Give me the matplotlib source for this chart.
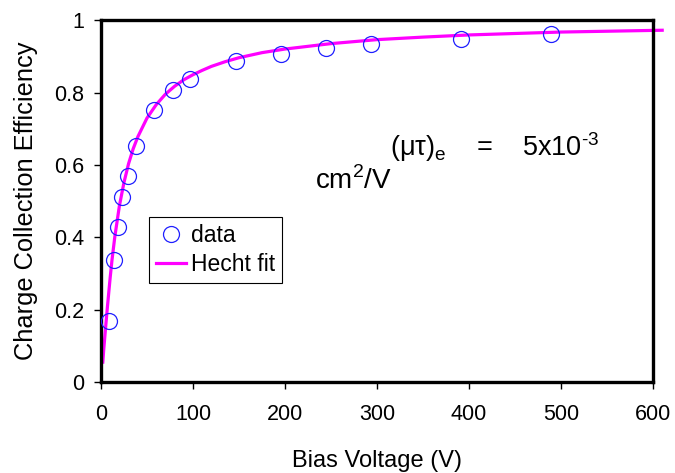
import matplotlib
matplotlib.use('Agg')
import matplotlib.pyplot as plt

plt.rcParams['font.family'] = ['Liberation Sans', 'DejaVu Sans']
plt.rcParams['mathtext.fontset'] = 'custom'
plt.rcParams['mathtext.rm'] = 'Liberation Sans'

# measured points
bias_v = [9, 14, 19, 23, 29, 38, 58, 78, 97, 147, 196, 245, 294, 391, 489]
cce = [0.168, 0.337, 0.428, 0.511, 0.571, 0.654, 0.752, 0.807, 0.837,
       0.888, 0.908, 0.925, 0.936, 0.950, 0.963]

# fit curve
fit_v = [2, 3, 5, 7, 10, 12, 15, 20, 25, 30, 35, 40, 50, 60, 70, 80, 90, 100,
         110, 120, 135, 150, 175, 200, 250, 300, 350, 400, 500, 610]
fit_cce = [0.055, 0.09, 0.150, 0.208, 0.289, 0.338, 0.401, 0.487, 0.552,
           0.604, 0.645, 0.678, 0.730, 0.767, 0.796, 0.818, 0.836, 0.850,
           0.862, 0.873, 0.886, 0.897, 0.911, 0.921, 0.936, 0.947, 0.954,
           0.960, 0.968, 0.973]

x_ticks = [0, 100, 200, 300, 400, 500, 600]
y_ticks = [0, 0.2, 0.4, 0.6, 0.8, 1]
y_tick_labels = ['0', '0.2', '0.4', '0.6', '0.8', '1']

fig = plt.figure(figsize=(6.75, 4.73), dpi=100)
ax = fig.add_axes([0.1496, 0.1924, 0.8178, 0.7643])

ax.plot(bias_v, cce, 'o', mfc='none', mec='#1f1fff', ms=11.5, mew=0.9,
        label='data', zorder=3)
ax.plot(fit_v, fit_cce, color='#ff00ff', lw=2.3, label='Hecht fit',
        clip_on=False, zorder=2)

ax.set_xlim(0, 600)
ax.set_ylim(0, 1)
ax.set_xticks(x_ticks)
ax.set_yticks(y_ticks)
ax.set_yticklabels(y_tick_labels)
ax.tick_params(direction='out', length=5, width=1, labelsize=15.5, pad=7)
ax.tick_params(axis='x', pad=11)
for s in ax.spines.values():
    s.set_linewidth(2.4)

ax.set_xlabel('Bias Voltage (V)', fontsize=17, labelpad=18)
ax.set_ylabel('Charge Collection Efficiency', fontsize=18.3, labelpad=12)

ax.text(314, 0.65,
        '(μτ)$_\\mathregular{e}$    =    5x10$^\\mathregular{\u20103}$',
        fontsize=19.5, va='center')
ax.text(233, 0.558, r'cm$^\mathregular{2}$/V', fontsize=20, va='center')

leg = ax.legend(loc='upper left', bbox_to_anchor=(0.087, 0.456), fontsize=16.5,
                frameon=True, fancybox=False, framealpha=1, edgecolor='black',
                borderpad=0.3, handlelength=1.3, handletextpad=0.25,
                labelspacing=0.25, borderaxespad=0)
leg.get_frame().set_linewidth(0.8)

plt.savefig('out.png', dpi=100)
